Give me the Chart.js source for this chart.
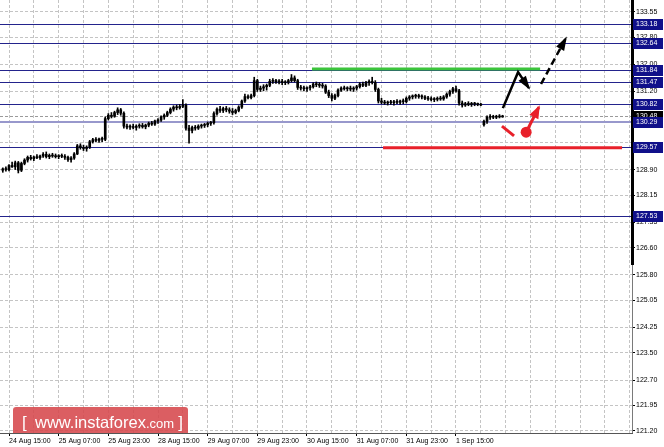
<!DOCTYPE html>
<html><head><meta charset="utf-8">
<script src="https://cdn.jsdelivr.net/npm/chart.js@4.4.0/dist/chart.umd.min.js"></script>
<style>html,body{margin:0;padding:0;background:#fff}#wrap{width:664px;height:447px;position:relative}</style>
</head><body><div id="wrap"><canvas id="c" width="664" height="447"></canvas></div>
<script>
const opens=[128.88,128.92,128.90,129.02,128.98,129.10,128.88,129.08,129.18,129.26,
129.22,129.27,129.25,129.30,129.35,129.28,129.32,129.30,129.28,129.31,
129.29,129.26,129.19,129.24,129.36,129.60,129.55,129.52,129.56,129.72,
129.78,129.76,129.80,129.79,130.40,130.50,130.47,130.58,130.66,130.56,
130.18,130.15,130.17,130.14,130.18,130.20,130.16,130.21,130.26,130.24,
130.33,130.36,130.45,130.50,130.58,130.68,130.74,130.72,130.76,130.80,
130.12,130.05,130.14,130.12,130.18,130.20,130.22,130.26,130.28,130.55,
130.68,130.64,130.70,130.66,130.62,130.58,130.64,130.74,130.92,131.05,
131.02,131.08,131.52,131.26,131.30,131.34,131.38,131.50,131.52,131.48,
131.50,131.46,131.48,131.52,131.60,131.52,131.32,131.30,131.28,131.31,
131.34,131.42,131.40,131.38,131.36,131.18,131.08,131.00,131.08,131.24,
131.30,131.28,131.30,131.27,131.30,131.34,131.42,131.38,131.46,131.50,
131.46,131.26,130.92,130.88,130.86,130.88,130.87,130.90,130.88,130.92,
130.90,131.00,131.04,131.06,131.08,131.05,131.04,131.00,130.98,130.96,
130.97,131.00,130.98,131.04,131.12,131.20,131.28,131.22,130.86,130.80,
130.84,130.82,130.84,130.83,130.82,130.22,130.32,130.44,130.46,130.44,
130.47,130.45];
const highs=[128.95,128.98,129.05,129.12,129.15,129.14,129.12,129.22,129.30,129.32,
129.30,129.34,129.33,129.40,129.42,129.36,129.38,129.36,129.34,129.36,
129.34,129.30,129.28,129.40,129.64,129.66,129.62,129.60,129.76,129.82,
129.84,129.83,129.86,130.45,130.55,130.58,130.62,130.72,130.70,130.60,
130.24,130.22,130.24,130.22,130.25,130.26,130.24,130.30,130.32,130.36,
130.40,130.48,130.54,130.62,130.72,130.78,130.80,130.82,130.96,130.84,
130.20,130.18,130.20,130.22,130.24,130.26,130.30,130.32,130.60,130.72,
130.76,130.74,130.76,130.72,130.70,130.68,130.78,130.95,131.12,131.10,
131.12,131.62,131.56,131.36,131.40,131.42,131.56,131.58,131.56,131.55,
131.56,131.52,131.56,131.70,131.66,131.56,131.38,131.36,131.34,131.38,
131.46,131.48,131.46,131.44,131.40,131.24,131.14,131.12,131.28,131.34,
131.36,131.34,131.36,131.34,131.38,131.46,131.48,131.50,131.54,131.62,
131.52,131.30,131.00,130.94,130.92,130.94,130.94,130.96,130.95,130.98,
131.04,131.08,131.10,131.12,131.12,131.10,131.08,131.06,131.04,131.02,
131.04,131.06,131.08,131.16,131.24,131.32,131.36,131.26,130.92,130.88,
130.90,130.88,130.88,130.86,130.85,130.36,130.48,130.52,130.50,130.50,
130.52,130.50];
const lows=[128.82,128.85,128.86,128.96,128.90,128.80,128.84,129.04,129.12,129.18,
129.16,129.22,129.20,129.26,129.24,129.22,129.26,129.24,129.22,129.25,
129.20,129.14,129.12,129.20,129.34,129.50,129.46,129.44,129.52,129.68,
129.72,129.70,129.72,129.75,130.36,130.42,130.44,130.52,130.50,130.12,
130.10,130.08,130.10,130.06,130.12,130.12,130.10,130.16,130.20,130.20,
130.26,130.32,130.38,130.46,130.54,130.62,130.66,130.68,130.72,130.06,
129.68,129.98,130.06,130.08,130.12,130.14,130.16,130.20,130.24,130.50,
130.58,130.58,130.60,130.56,130.52,130.54,130.60,130.70,130.88,130.98,
130.98,131.04,131.20,131.20,131.22,131.24,131.34,131.44,131.44,131.42,
131.40,131.40,131.42,131.48,131.48,131.26,131.24,131.22,131.20,131.24,
131.30,131.34,131.32,131.30,131.14,131.02,130.92,130.96,131.04,131.20,
131.24,131.22,131.22,131.20,131.24,131.30,131.34,131.34,131.38,131.42,
131.20,130.86,130.84,130.82,130.80,130.82,130.80,130.84,130.82,130.84,
130.86,130.94,130.98,131.00,131.00,130.98,130.96,130.94,130.92,130.90,
130.92,130.94,130.94,131.00,131.06,131.14,131.18,130.80,130.74,130.76,
130.78,130.76,130.78,130.78,130.78,130.18,130.26,130.38,130.40,130.40,
130.42,130.44];
const closes=[128.92,128.90,129.02,128.98,129.10,128.88,129.08,129.18,129.26,129.22,
129.27,129.25,129.30,129.35,129.28,129.32,129.30,129.28,129.31,129.29,
129.26,129.19,129.24,129.36,129.60,129.55,129.52,129.56,129.72,129.78,
129.76,129.80,129.79,130.40,130.50,130.47,130.58,130.66,130.56,130.18,
130.15,130.17,130.14,130.18,130.20,130.16,130.21,130.26,130.24,130.33,
130.36,130.45,130.50,130.58,130.68,130.74,130.72,130.76,130.80,130.12,
130.05,130.14,130.12,130.18,130.20,130.22,130.26,130.28,130.55,130.68,
130.64,130.70,130.66,130.62,130.58,130.64,130.74,130.92,131.05,131.02,
131.08,131.52,131.26,131.30,131.34,131.38,131.50,131.52,131.48,131.50,
131.46,131.48,131.52,131.60,131.52,131.32,131.30,131.28,131.31,131.34,
131.42,131.40,131.38,131.36,131.18,131.08,131.00,131.08,131.24,131.30,
131.28,131.30,131.27,131.30,131.34,131.42,131.38,131.46,131.50,131.46,
131.26,130.92,130.88,130.86,130.88,130.87,130.90,130.88,130.92,130.90,
131.00,131.04,131.06,131.08,131.05,131.04,131.00,130.98,130.96,130.97,
131.00,130.98,131.04,131.12,131.20,131.28,131.22,130.86,130.80,130.84,
130.82,130.84,130.83,130.82,130.80,130.32,130.44,130.46,130.44,130.47,
130.45,130.48];

const tickBars=[2,18,34,50,66,82,98,114,130,146];
const tickLabels=['24 Aug 15:00','25 Aug 07:00','25 Aug 23:00','28 Aug 15:00','29 Aug 07:00','29 Aug 23:00','30 Aug 15:00','31 Aug 07:00','31 Aug 23:00','1 Sep 15:00'];
const priceTicks=[121.20,121.95,122.70,123.50,124.25,125.05,125.80,126.60,127.35,128.15,128.90,129.70,130.45,131.20,132.00,132.80,133.55];
const levels=[133.18,132.64,131.84,131.47,130.82,130.29,129.57,127.53];
const currentPrice=130.48;
const greenZone=[[99.6,131.86],[173.1,131.86]];
const redZone=[[122.5,129.54],[199.5,129.54]];
const forecastSolid=[[161.1,130.71],[166.0,131.77],[169.5,131.30]];
const forecastDashed=[[173.4,131.42],[181.4,132.77]];
const altStop=[[160.8,130.18],[164.7,129.89]];
const altArrow=[[168.6,130.0],[172.7,130.74]];

const gridBars=[];for(let b=2;b<=202;b+=8)gridBars.push(b);
const FONT='"Liberation Sans", Arial, sans-serif';
const pts=a=>a.map(p=>({x:p[0],y:p[1]}));
const covered=v=>levels.concat([currentPrice]).some(l=>Math.abs(l-v)<0.15);

function head(ctx,x0,y0,x1,y1,len,wid,color){
  const ang=Math.atan2(y1-y0,x1-x0);
  ctx.save();ctx.translate(x1,y1);ctx.rotate(ang);
  ctx.beginPath();ctx.moveTo(2,0);ctx.lineTo(-len,wid/2);ctx.lineTo(-len,-wid/2);ctx.closePath();
  ctx.fillStyle=color;ctx.fill();ctx.restore();
}

const overlay={
  id:'overlay',
  beforeDatasetsDraw(chart){
    const {ctx,chartArea:a,scales:{y}}=chart;
    ctx.save();
    let yp=Math.round(y.getPixelForValue(currentPrice))+0.5;
    ctx.strokeStyle='#9a9a9a';ctx.lineWidth=1;ctx.setLineDash([3,2]);
    ctx.beginPath();ctx.moveTo(a.left,yp);ctx.lineTo(a.right,yp);ctx.stroke();
    ctx.setLineDash([]);
    levels.forEach(v=>{
      const light=(v===130.29);
      const p=Math.round(y.getPixelForValue(v))+(light?0:0.5);
      ctx.strokeStyle=light?'#9898cc':'#23238c';
      ctx.lineWidth=light?2:1;
      ctx.beginPath();ctx.moveTo(a.left,p);ctx.lineTo(a.right,p);ctx.stroke();
    });
    ctx.restore();
  },
  afterDraw(chart){
    const {ctx,chartArea:a,scales:{x,y}}=chart;
    ctx.save();
    ctx.fillStyle='#7a7a7a';
    ctx.fillRect(a.right,a.top,1,a.bottom-a.top+1);
    ctx.fillStyle='#000';
    ctx.fillRect(a.right-1,a.top,3,265);
    ctx.fillStyle='#555';
    ctx.fillRect(a.left,a.bottom,a.right-a.left+1,1);
    const P=p=>[x.getPixelForValue(p[0]),y.getPixelForValue(p[1])];
    let s1=P(forecastSolid[1]),s2=P(forecastSolid[2]);
    head(ctx,s1[0],s1[1],s2[0],s2[1],12,9,'#000');
    let d1=P(forecastDashed[0]),d2=P(forecastDashed[1]);
    head(ctx,d1[0],d1[1],d2[0],d2[1],12,9,'#000');
    let r1=P(altArrow[0]),r2=P(altArrow[1]);
    head(ctx,r1[0],r1[1],r2[0],r2[1],11,10,'#e8202a');
    ctx.font='7px '+FONT;ctx.textBaseline='middle';ctx.textAlign='left';
    const box=(v,bg)=>{
      const p=Math.round(y.getPixelForValue(v));
      ctx.fillStyle=bg;ctx.fillRect(a.right+1,p-5,30,11);
      ctx.fillStyle='#fff';ctx.fillText(v.toFixed(2),a.right+4,p+0.5);
    };
    box(currentPrice,'#000');
    levels.forEach(v=>box(v,'#10108a'));
    ctx.fillStyle='rgba(214,72,76,0.88)';
    const wx=13,wy=407,ww=175,wh=26,r=3;
    ctx.beginPath();ctx.moveTo(wx+r,wy);ctx.lineTo(wx+ww-r,wy);ctx.quadraticCurveTo(wx+ww,wy,wx+ww,wy+r);
    ctx.lineTo(wx+ww,wy+wh);ctx.lineTo(wx,wy+wh);ctx.lineTo(wx,wy+r);ctx.quadraticCurveTo(wx,wy,wx+r,wy);ctx.fill();
    ctx.fillStyle='#fff';ctx.textBaseline='alphabetic';
    ctx.font='17px '+FONT;ctx.fillText('[',22,428);
    ctx.font='16.5px '+FONT;ctx.fillText('www.instaforex',35,428);
    let w=ctx.measureText('www.instaforex').width;
    ctx.font='13px '+FONT;ctx.fillText('.com',35+w,428);
    let w2=ctx.measureText('.com').width;
    ctx.font='17px '+FONT;ctx.fillText(']',35+w+w2+4,428);
    ctx.restore();
  }
};

const wickData=lows.map((lo,i)=>({x:i,y:[lo,highs[i]]}));
const bodyData=opens.map((op,i)=>({x:i,y:[op,closes[i]]}));

new Chart(document.getElementById('c'),{
  type:'bar',
  data:{datasets:[
    {type:'line',data:pts(greenZone),borderColor:'#3cc43c',borderWidth:3,pointRadius:0,order:5},
    {type:'line',data:pts(redZone),borderColor:'#e8202a',borderWidth:3,pointRadius:0,order:5},
    {data:wickData,backgroundColor:'#000',barThickness:1,grouped:false,order:4},
    {data:bodyData,backgroundColor:'#000',barThickness:2,minBarLength:1,grouped:false,order:3},
    {type:'line',data:pts(forecastSolid),borderColor:'#000',borderWidth:2.5,pointRadius:0,order:1},
    {type:'line',data:pts(forecastDashed),borderColor:'#000',borderWidth:2.5,borderDash:[7,4],pointRadius:0,order:1},
    {type:'line',data:pts(altStop),borderColor:'#e8202a',borderWidth:3,pointRadius:0,order:1},
    {type:'line',data:pts(altArrow),borderColor:'#e8202a',borderWidth:3,pointRadius:[5.5,0],pointBackgroundColor:'#e8202a',pointBorderWidth:0,order:1}
  ]},
  options:{
    responsive:false,animation:false,devicePixelRatio:1,
    layout:{padding:0,autoPadding:false},
    plugins:{legend:{display:false},tooltip:{enabled:false}},
    scales:{
      x:{type:'linear',min:-0.9,max:202.7,offset:false,
        grid:{offset:false,color:'#c4c4c4',lineWidth:1,drawTicks:true,tickLength:3,
          tickColor:c=>tickBars.includes(c.tick&&c.tick.value)?'#000':'rgba(0,0,0,0)',tickBorderDash:[],tickWidth:1},
        border:{display:false,dash:[3,2]},
        ticks:{autoSkip:false,maxRotation:0,minRotation:0,align:'start',padding:1,color:'#000',
          font:{family:FONT,size:7},
          callback:v=>{const k=tickBars.indexOf(v);return k>=0?tickLabels[k]:'';}},
        afterBuildTicks:s=>{s.ticks=gridBars.map(v=>({value:v}));},
        afterFit:s=>{s.height=14;s.paddingLeft=0;s.paddingRight=0;}
      },
      y:{type:'linear',position:'right',min:121.14,max:133.895,
        grid:{color:'#c4c4c4',lineWidth:1,tickLength:3,tickColor:'#000',tickBorderDash:[]},
        border:{display:false,dash:[3,2]},
        ticks:{padding:1,color:'#000',font:{family:FONT,size:7},callback:v=>covered(v)?'':Number(v).toFixed(2)},
        afterBuildTicks:s=>{s.ticks=priceTicks.map(v=>({value:v}));},
        afterFit:s=>{s.width=32;s.paddingTop=0;s.paddingBottom=0;}
      }
    }
  },
  plugins:[overlay]
});
</script></body></html>
